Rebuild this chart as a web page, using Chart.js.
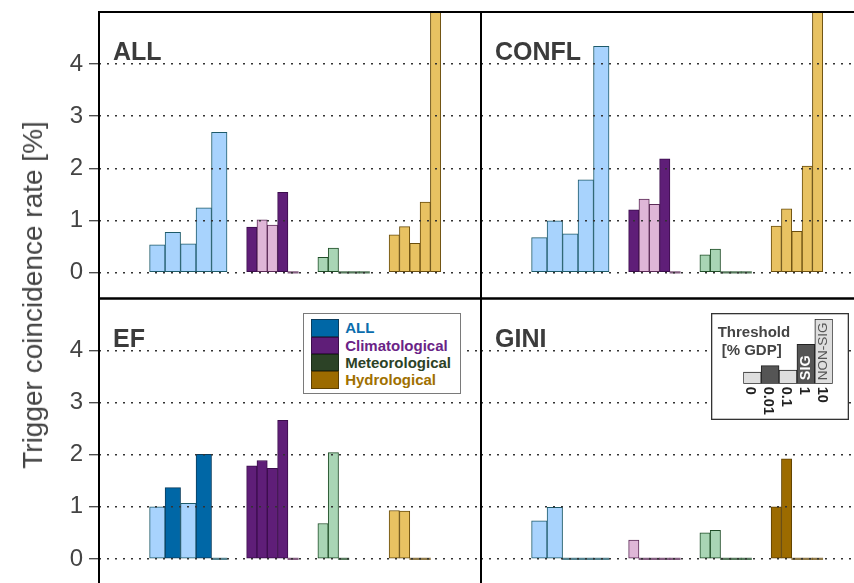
<!DOCTYPE html>
<html><head><meta charset="utf-8">
<script src="https://cdn.jsdelivr.net/npm/chart.js@4.4.1/dist/chart.umd.min.js"></script>
<style>
html,body{margin:0;padding:0;background:#fff;width:854px;height:583px;overflow:hidden;position:relative;font-family:"Liberation Sans",Arial,sans-serif;}
canvas{position:absolute;}
#ytitle{position:absolute;left:33px;top:295px;transform:translate(-50%,-50%) rotate(-90deg);white-space:nowrap;font-size:28px;color:#444;}
#leg1{position:absolute;left:303.3px;top:313.3px;width:158px;height:81px;box-sizing:border-box;border:1.5px solid #7a7a7a;background:#fff;z-index:5;}
.row{position:absolute;left:6.9px;height:17.3px;width:140px;}
.sw{position:absolute;left:0;top:0;width:27.6px;height:17.3px;box-sizing:border-box;border:1px solid #333;}
.lab{position:absolute;left:34px;top:0;font-weight:bold;font-size:15px;line-height:17.3px;white-space:nowrap;}
#thr{z-index:5;}
</style></head>
<body>
<canvas id="cTL" width="492" height="310" style="left:0;top:0"></canvas>
<canvas id="cTR" width="405" height="310" style="left:470px;top:0"></canvas>
<canvas id="cBL" width="492" height="310" style="left:0;top:287px"></canvas>
<canvas id="cBR" width="405" height="310" style="left:470px;top:287px"></canvas>
<div id="leg1"></div>
<canvas id="thr" width="138" height="107" style="left:711px;top:313px"></canvas>
<div id="ytitle">Trigger coincidence rate [%]</div>
<script>
// ---------------- DATA ----------------
const thresholds = ['0', '0.01', '0.1', '1', '10'];
const hazards = ['ALL', 'Climatological', 'Meteorological', 'Hydrological'];
const panelNames = ['ALL', 'CONFL', 'EF', 'GINI'];
const yTicks = [0, 1, 2, 3, 4];

// trigger coincidence rate [%] per hazard group (rows) and GDP threshold (cols)
const ratesALL   = [[0.53, 0.77, 0.55, 1.24, 2.69], [0.87, 1.01, 0.91, 1.54, 0], [0.29, 0.47, 0, 0, 0], [0.72, 0.88, 0.56, 1.35, 5.6]];
const ratesCONFL = [[0.67, 0.99, 0.74, 1.78, 4.34], [1.20, 1.41, 1.31, 2.18, 0], [0.34, 0.45, 0, 0, 0], [0.89, 1.22, 0.79, 2.04, 5.6]];
const ratesEF    = [[1.00, 1.37, 1.07, 2.01, 0], [1.79, 1.89, 1.74, 2.66, 0], [0.68, 2.04, 0, null, null], [0.93, 0.92, 0, 0, null]];
const ratesGINI  = [[0.73, 0.99, 0, 0, 0], [0.36, 0, 0, 0, 0], [0.50, 0.55, 0, 0, 0], [1.00, 1.92, 0, 0, 0]];

// significance flags (1 = SIG)
const sigALL   = [[0, 0, 0, 0, 0], [1, 0, 0, 1, 0], [0, 0, 0, 0, 0], [0, 0, 0, 0, 0]];
const sigCONFL = [[0, 0, 0, 0, 0], [1, 0, 0, 1, 0], [0, 0, 0, 0, 0], [0, 0, 0, 0, 0]];
const sigEF    = [[0, 1, 0, 1, 0], [1, 1, 1, 1, 0], [0, 0, 0, 0, 0], [0, 0, 0, 0, 0]];
const sigGINI  = [[0, 0, 0, 0, 0], [0, 0, 0, 0, 0], [0, 0, 0, 0, 0], [1, 1, 0, 0, 0]];

// threshold key (schematic bar heights)
const keyBarHeights = [0.18, 0.28, 0.21, 0.61, 1.0];
const keyBarSig = [0, 1, 0, 1, 0];

// ---------------- STYLE / LAYOUT ----------------
const palette = [
  {light: '#a8d3fd', dark: '#0067a6', edgeL: '#1d5a69', edgeD: '#0b3d5e', text: '#0a6dad'},
  {light: '#dfb6d7', dark: '#5f1e78', edgeL: '#5b2a57', edgeD: '#3b0d4c', text: '#6a2386'},
  {light: '#a9d5b5', dark: '#2c4226', edgeL: '#1f4d27', edgeD: '#1a2a16', text: '#2c4226'},
  {light: '#e8c262', dark: '#9c6b00', edgeL: '#6a4e0e', edgeD: '#5e4000', text: '#a07000'}
];
const X_MAX = 37, FIRST_START = 4.9, GROUP_GAP = 1.9;
const groupWidth = [1.5, 1, 1, 1];
const PANEL_W = 382;
const unitPx = PANEL_W / X_MAX;
const FONT = '"Liberation Sans", Arial, sans-serif';

function hexA(hex, a) {
  const n = parseInt(hex.slice(1), 16);
  return `rgba(${n >> 16},${(n >> 8) & 255},${n & 255},${a})`;
}

const framePlugin = (title) => ({
  id: 'frame',
  afterDraw(chart) {
    const {ctx, chartArea: a} = chart;
    ctx.save();
    ctx.font = `bold 25px ${FONT}`;
    ctx.fillStyle = '#3b3b3b';
    ctx.textBaseline = 'alphabetic';
    ctx.fillText(title, a.left + 14, a.top + 48);
    ctx.strokeStyle = '#000';
    ctx.lineWidth = 2;
    ctx.strokeRect(a.left, a.top, a.right - a.left, a.bottom - a.top);
    ctx.restore();
  }
});

function makePanel(id, title, rates, sig, isLeft, padTop, padBottom, padRight) {
  let start = FIRST_START;
  const datasets = rates.map((vals, g) => {
    const w = groupWidth[g];
    const s = start;
    start += w * vals.length + GROUP_GAP;
    const pal = palette[g];
    return {
      label: hazards[g],
      data: vals.map((v, i) => ({x: s + w * (i + 0.5), y: v})),
      barThickness: w * unitPx,
      grouped: false,
      minBarLength: 1.6,
      borderSkipped: false,
      backgroundColor: c => (c.raw && c.raw.y === 0) ? hexA(sig[g][c.dataIndex] ? pal.edgeD : pal.edgeL, 0.75)
                                         : (sig[g][c.dataIndex] ? pal.dark : pal.light),
      borderColor: c => sig[g][c.dataIndex] ? pal.edgeD : pal.edgeL,
      borderWidth: c => (c.raw && c.raw.y === 0) ? 0 : 1
    };
  });
  return new Chart(document.getElementById(id), {
    type: 'bar',
    data: {datasets},
    options: {
      responsive: false,
      animation: false,
      devicePixelRatio: 1,
      layout: {padding: {left: 0, right: padRight, top: padTop, bottom: padBottom}},
      plugins: {legend: {display: false}, tooltip: {enabled: false}},
      scales: {
        x: {type: 'linear', min: 0, max: X_MAX, offset: false, display: false, grid: {offset: false}},
        y: {
          min: -0.5, max: 5,
          afterBuildTicks: s => { s.ticks = yTicks.map(v => ({value: v})); },
          afterFit: s => { s.width = isLeft ? 99 : 11; s.paddingTop = 0; s.paddingBottom = 0; },
          border: {display: false, dash: [2, 6], dashOffset: 0},
          grid: {z: 1, color: '#333', lineWidth: 1.4, drawTicks: isLeft,
                 tickLength: 10, tickColor: '#444', tickWidth: 1.3, tickBorderDash: []},
          ticks: {display: isLeft, padding: 6, color: '#444', font: {size: 24, family: FONT}}
        }
      }
    },
    plugins: [framePlugin(title)]
  });
}

makePanel('cTL', panelNames[0], ratesALL, sigALL, true, 12, 11.5, 11);
makePanel('cTR', panelNames[1], ratesCONFL, sigCONFL, false, 12, 11.5, 12);
makePanel('cBL', panelNames[2], ratesEF, sigEF, true, 11.5, 12, 11);
makePanel('cBR', panelNames[3], ratesGINI, sigGINI, false, 11.5, 12, 12);

// hazard legend
const leg = document.getElementById('leg1');
hazards.forEach((h, i) => {
  const row = document.createElement('div');
  row.className = 'row';
  row.style.top = (5.2 + 17.3 * i) + 'px';
  const sw = document.createElement('div');
  sw.className = 'sw';
  sw.style.background = palette[i].dark;
  sw.style.borderColor = palette[i].edgeD;
  const lab = document.createElement('div');
  lab.className = 'lab';
  lab.style.color = palette[i].text;
  lab.textContent = h;
  row.appendChild(sw); row.appendChild(lab);
  leg.appendChild(row);
});

// threshold key
new Chart(document.getElementById('thr'), {
  type: 'bar',
  data: {labels: thresholds, datasets: [{
    data: keyBarHeights,
    backgroundColor: c => keyBarSig[c.dataIndex] ? '#555555' : '#dedede',
    borderColor: '#222', borderWidth: 1, borderSkipped: false,
    categoryPercentage: 1, barPercentage: 1
  }]},
  options: {
    responsive: false, animation: false, devicePixelRatio: 1,
    layout: {padding: {left: 32.3, right: 16.3, top: 6, bottom: 36.3}},
    plugins: {legend: {display: false}, tooltip: {enabled: false}},
    scales: {x: {display: false}, y: {display: false, min: 0, max: 1}}
  },
  plugins: [{
    id: 'thrKey',
    beforeDraw(chart) {
      const ctx = chart.ctx;
      ctx.save();
      ctx.fillStyle = '#fff';
      ctx.fillRect(0, 0, chart.width, chart.height);
      ctx.strokeStyle = '#333';
      ctx.lineWidth = 1.3;
      ctx.strokeRect(0.65, 0.65, chart.width - 1.3, chart.height - 1.3);
      ctx.fillStyle = '#444';
      ctx.font = `bold 15px ${FONT}`;
      ctx.textBaseline = 'alphabetic';
      ctx.fillText('Threshold', 6.7, 23.7);
      ctx.fillText('[% GDP]', 10.7, 42);
      ctx.restore();
    },
    afterDraw(chart) {
      const ctx = chart.ctx, xs = chart.scales.x, a = chart.chartArea;
      ctx.save();
      thresholds.forEach((t, i) => {
        const cx = xs.getPixelForValue(i);
        ctx.save();
        ctx.translate(cx - 2, a.bottom + 3);
        ctx.rotate(Math.PI / 2);
        ctx.font = `bold 14.5px ${FONT}`;
        ctx.fillStyle = '#222';
        ctx.textAlign = 'left';
        ctx.textBaseline = 'middle';
        ctx.fillText(t, 0, 0);
        ctx.restore();
      });
      const inBar = [[3, 'SIG', '#fff', `bold 14.5px ${FONT}`], [4, 'NON-SIG', '#555', `13.5px ${FONT}`]];
      inBar.forEach(([i, txt, col, font]) => {
        const cx = xs.getPixelForValue(i);
        ctx.save();
        ctx.translate(cx, a.bottom - 3.5);
        ctx.rotate(-Math.PI / 2);
        ctx.font = font;
        ctx.fillStyle = col;
        ctx.textAlign = 'left';
        ctx.textBaseline = 'middle';
        ctx.fillText(txt, 0, 0);
        ctx.restore();
      });
      ctx.restore();
    }
  }]
});
</script>
</body></html>
